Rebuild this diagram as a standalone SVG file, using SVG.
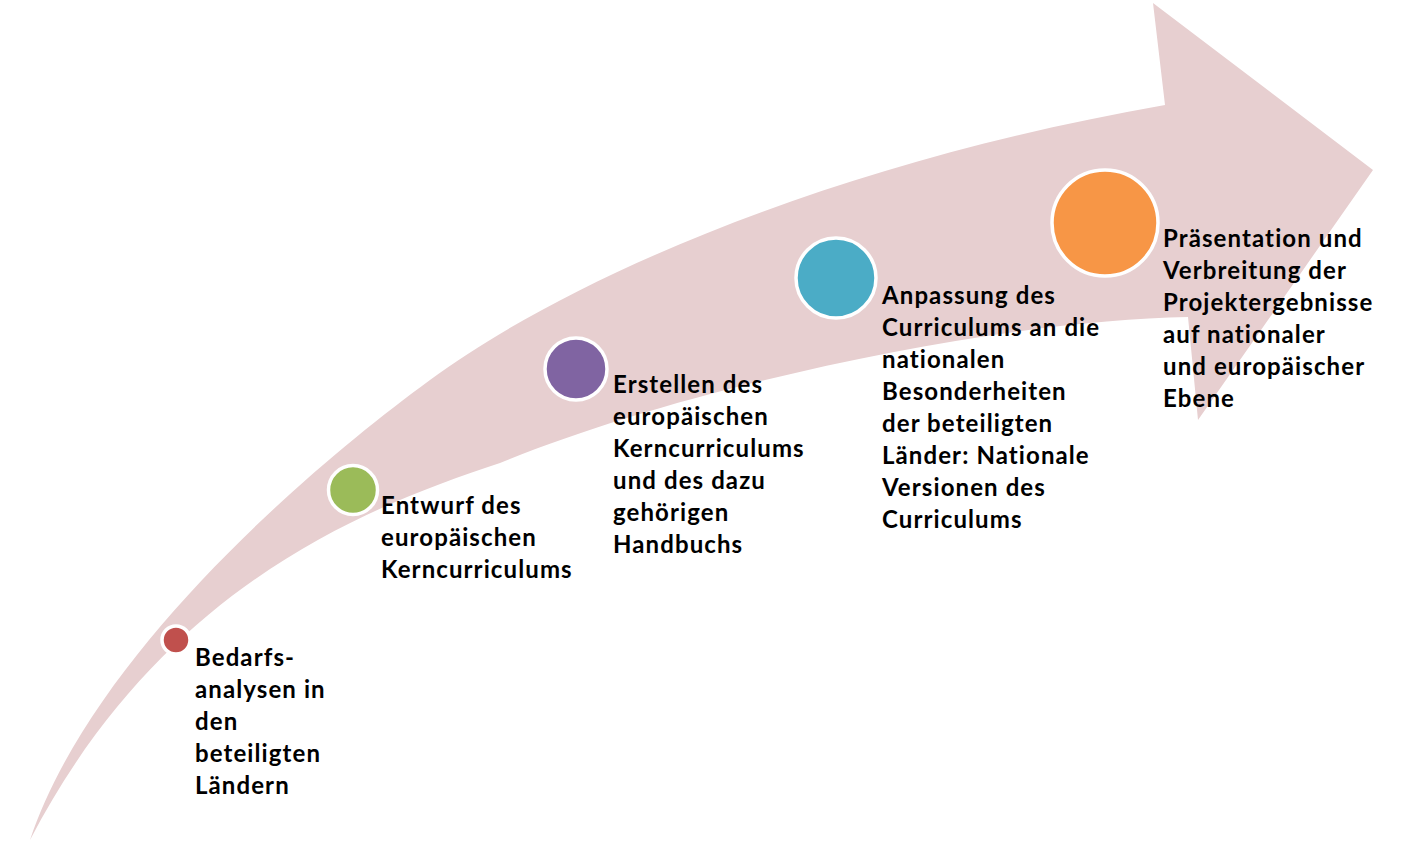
<svg xmlns="http://www.w3.org/2000/svg" width="1404" height="843" viewBox="0 0 1404 843">
<style>
.lbl{font-family:Lato,"Liberation Sans",sans-serif;font-weight:700;font-size:24px;letter-spacing:1.1px;fill:#000}
.dot{stroke:#fff;stroke-width:3.5}
</style>
<rect width="1404" height="843" fill="#fff"/>
<g id="connectors">
<path id="arrow" fill="#E7CFD0" d="M30,840 C90,660 300,475 430,380 C580,270 850,160 1165,105 L1153,3 L1373,170 L1198,420 L1188,317 C1000,320 690,385 500,463 C360,509 160,590 30,840 Z"/>
</g>
<g id="node1">
<circle class="dot" cx="176" cy="640" r="14" fill="#C0504D"/>
<text class="lbl"><tspan x="195" y="666">Bedarfs-</tspan><tspan x="195" y="698">analysen in</tspan><tspan x="195" y="730">den</tspan><tspan x="195" y="762">beteiligten</tspan><tspan x="195" y="794">Ländern</tspan></text>
</g>
<g id="node2">
<circle class="dot" cx="353" cy="490" r="24.5" fill="#9BBB59"/>
<text class="lbl"><tspan x="381" y="514">Entwurf des</tspan><tspan x="381" y="546">europäischen</tspan><tspan x="381" y="578">Kerncurriculums</tspan></text>
</g>
<g id="node3">
<circle class="dot" cx="576" cy="369" r="31" fill="#8064A2"/>
<text class="lbl"><tspan x="613" y="393">Erstellen des</tspan><tspan x="613" y="425">europäischen</tspan><tspan x="613" y="457">Kerncurriculums</tspan><tspan x="613" y="489">und des dazu</tspan><tspan x="613" y="521">gehörigen</tspan><tspan x="613" y="553">Handbuchs</tspan></text>
</g>
<g id="node4">
<circle class="dot" cx="836" cy="278" r="40" fill="#4BACC6"/>
<text class="lbl"><tspan x="882" y="304">Anpassung des</tspan><tspan x="882" y="336">Curriculums an die</tspan><tspan x="882" y="368">nationalen</tspan><tspan x="882" y="400">Besonderheiten</tspan><tspan x="882" y="432">der beteiligten</tspan><tspan x="882" y="464">Länder: Nationale</tspan><tspan x="882" y="496">Versionen des</tspan><tspan x="882" y="528">Curriculums</tspan></text>
</g>
<g id="node5">
<circle class="dot" cx="1105" cy="223" r="53" fill="#F79646"/>
<text class="lbl"><tspan x="1163" y="247">Präsentation und</tspan><tspan x="1163" y="279">Verbreitung der</tspan><tspan x="1163" y="311">Projektergebnisse</tspan><tspan x="1163" y="343">auf nationaler</tspan><tspan x="1163" y="375">und europäischer</tspan><tspan x="1163" y="407">Ebene</tspan></text>
</g>
</svg>
